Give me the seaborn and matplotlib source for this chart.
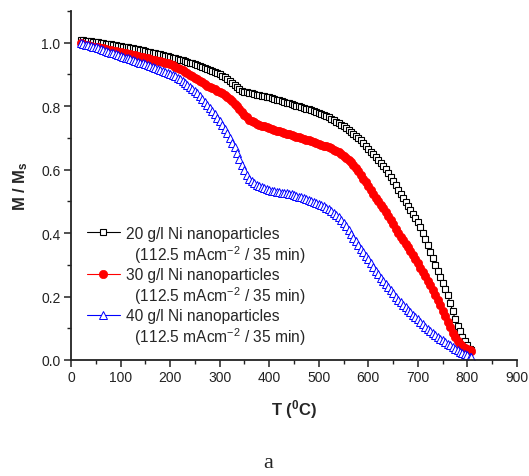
import matplotlib
matplotlib.use("Agg")
import matplotlib.pyplot as plt
from matplotlib.lines import Line2D
from matplotlib.ticker import MultipleLocator
import seaborn as sns
import pandas as pd

# Temperature grid (deg C)
T = [20, 25, 30, 35, 40, 45, 50, 55, 60, 65, 70, 75, 80, 85, 90, 95, 100, 105, 110, 115,
     120, 125, 130, 135, 140, 145, 150, 155, 160, 165, 170, 175, 180, 185, 190, 195, 200,
     205, 210, 215, 220, 225, 230, 235, 240, 245, 250, 255, 260, 265, 270, 275, 280, 285,
     290, 295, 300, 305, 310, 315, 320, 325, 330, 335, 340, 345, 350, 355, 360, 365, 370,
     375, 380, 385, 390, 395, 400, 405, 410, 415, 420, 425, 430, 435, 440, 445, 450, 455,
     460, 465, 470, 475, 480, 485, 490, 495, 500, 505, 510, 515, 520, 525, 530, 535, 540,
     545, 550, 555, 560, 565, 570, 575, 580, 585, 590, 595, 600, 605, 610, 615, 620, 625,
     630, 635, 640, 645, 650, 655, 660, 665, 670, 675, 680, 685, 690, 695, 700, 705, 710,
     715, 720, 725, 730, 735, 740, 745, 750, 755, 760, 765, 770, 775, 780, 785, 790, 795,
     800, 805, 808]

# M / Ms, 20 g/l
M_20 = [1.010, 1.008, 1.007, 1.006, 1.005, 1.003, 1.002, 1.001, 1.000, 0.998, 0.997, 0.996,
        0.995, 0.993, 0.992, 0.991, 0.990, 0.988, 0.987, 0.985, 0.984, 0.982, 0.981, 0.979,
        0.977, 0.976, 0.974, 0.972, 0.970, 0.969, 0.967, 0.965, 0.963, 0.961, 0.959, 0.957,
        0.955, 0.953, 0.951, 0.948, 0.946, 0.944, 0.942, 0.940, 0.937, 0.935, 0.932, 0.929,
        0.926, 0.923, 0.920, 0.917, 0.914, 0.911, 0.907, 0.904, 0.900, 0.896, 0.891, 0.886,
        0.880, 0.873, 0.866, 0.859, 0.853, 0.849, 0.846, 0.844, 0.842, 0.840, 0.838, 0.836,
        0.835, 0.833, 0.832, 0.830, 0.828, 0.826, 0.824, 0.821, 0.819, 0.816, 0.814, 0.811,
        0.809, 0.807, 0.805, 0.802, 0.800, 0.797, 0.795, 0.792, 0.790, 0.787, 0.785, 0.782,
        0.779, 0.775, 0.772, 0.768, 0.765, 0.760, 0.756, 0.751, 0.746, 0.741, 0.736, 0.730,
        0.725, 0.719, 0.713, 0.707, 0.700, 0.692, 0.684, 0.675, 0.665,
        0.657, 0.648, 0.639, 0.630, 0.621, 0.611, 0.601, 0.590, 0.577, 0.564, 0.551, 0.537,
        0.524, 0.510, 0.497, 0.484, 0.472, 0.460, 0.448, 0.435, 0.418, 0.400, 0.381, 0.361,
        0.341, 0.321, 0.301, 0.281, 0.262, 0.243, 0.224, 0.204, 0.180, 0.155, 0.130, 0.108,
        0.090, 0.074, 0.060, 0.048, 0.036, 0.030]

# M / Ms, 30 g/l
M_30 = [0.998, 0.996, 0.994, 0.992, 0.990, 0.988, 0.987, 0.985, 0.984, 0.982, 0.980, 0.978,
        0.977, 0.975, 0.973, 0.972, 0.970, 0.968, 0.967, 0.965, 0.963, 0.962, 0.960, 0.958,
        0.956, 0.955, 0.953, 0.951, 0.949, 0.947, 0.945, 0.943, 0.941, 0.939, 0.937, 0.935,
        0.932, 0.929, 0.925, 0.921, 0.917, 0.913, 0.908, 0.904, 0.899, 0.895, 0.890, 0.885,
        0.880, 0.875, 0.870, 0.865, 0.860, 0.857, 0.853, 0.849, 0.845, 0.840, 0.834, 0.828,
        0.822, 0.815, 0.807, 0.799, 0.790, 0.781, 0.772, 0.765, 0.758, 0.753, 0.749, 0.745,
        0.742, 0.739, 0.736, 0.733, 0.731, 0.728, 0.726, 0.723, 0.721, 0.718, 0.716, 0.713,
        0.711, 0.708, 0.706, 0.704, 0.702, 0.699, 0.697, 0.694, 0.692, 0.689, 0.686, 0.684,
        0.681, 0.678, 0.676, 0.673, 0.670, 0.667, 0.663, 0.659, 0.655, 0.650, 0.644, 0.638,
        0.631, 0.623, 0.614, 0.605, 0.595, 0.584, 0.572, 0.560, 0.548,
        0.536, 0.524, 0.512, 0.500, 0.489, 0.478, 0.466, 0.455, 0.441, 0.428, 0.414, 0.400,
        0.389, 0.378, 0.366, 0.355, 0.342, 0.330, 0.317, 0.305, 0.291, 0.278, 0.264, 0.250,
        0.235, 0.220, 0.205, 0.190, 0.173, 0.155, 0.138, 0.120, 0.103, 0.086, 0.071, 0.060,
        0.052, 0.045, 0.039, 0.034, 0.030, 0.027]

# M / Ms, 40 g/l
M_40 = [0.998, 0.996, 0.994, 0.992, 0.990, 0.988, 0.985, 0.983, 0.980, 0.978, 0.975, 0.972,
        0.969, 0.967, 0.964, 0.961, 0.958, 0.956, 0.953, 0.951, 0.948, 0.946, 0.943, 0.940,
        0.937, 0.935, 0.932, 0.929, 0.926, 0.924, 0.921, 0.918, 0.915, 0.912, 0.909, 0.906,
        0.903, 0.899, 0.895, 0.890, 0.885, 0.880, 0.874, 0.868, 0.862, 0.855, 0.848, 0.840,
        0.832, 0.823, 0.814, 0.805, 0.795, 0.785, 0.774, 0.763, 0.752, 0.740, 0.727, 0.714,
        0.700, 0.685, 0.670, 0.653, 0.635, 0.616, 0.598, 0.584, 0.572, 0.564, 0.558, 0.553,
        0.549, 0.545, 0.542, 0.539, 0.536, 0.534, 0.532, 0.530, 0.529, 0.527, 0.526, 0.525,
        0.524, 0.522, 0.520, 0.518, 0.515, 0.513, 0.510, 0.508, 0.505, 0.502, 0.498, 0.495,
        0.491, 0.488, 0.484, 0.480, 0.475, 0.470, 0.464, 0.457, 0.450, 0.441, 0.432, 0.421,
        0.410, 0.398, 0.386, 0.374, 0.362, 0.351, 0.340, 0.329, 0.318,
        0.306, 0.294, 0.282, 0.270, 0.260, 0.250, 0.240, 0.230, 0.220, 0.210, 0.200, 0.190,
        0.182, 0.174, 0.166, 0.158, 0.150, 0.143, 0.135, 0.128, 0.120, 0.112, 0.105, 0.097,
        0.091, 0.084, 0.078, 0.072, 0.067, 0.062, 0.057, 0.052, 0.046, 0.041, 0.035, 0.030,
        0.026, 0.022, 0.019, 0.015, 0.011, 0.008]

LABELS = ["20 g/l Ni nanoparticles", "30 g/l Ni nanoparticles", "40 g/l Ni nanoparticles"]
SUBLABEL = "  (112.5 mAcm$^{-2}$ / 35 min)"
X_TICKS = [0, 100, 200, 300, 400, 500, 600, 700, 800, 900]
Y_TICKS = [0.0, 0.2, 0.4, 0.6, 0.8, 1.0]

sns.set_theme(style="ticks")
plt.rcParams["font.family"] = ["Liberation Sans", "DejaVu Sans"]
plt.rcParams["mathtext.fontset"] = "custom"
plt.rcParams["mathtext.rm"] = "Liberation Sans"
plt.rcParams["mathtext.it"] = "Liberation Sans:italic"
plt.rcParams["mathtext.bf"] = "Liberation Sans:bold"

fig = plt.figure(figsize=(5.29, 4.77), dpi=100)
ax = fig.add_axes([71 / 529, 1 - 361 / 477, 446 / 529, 349 / 477])

styles = [
    dict(color="black", marker="s", markersize=5.0, markerfacecolor="white",
         markeredgecolor="black", markeredgewidth=0.8),
    dict(color="red", marker="o", markersize=6.0, markerfacecolor="red",
         markeredgecolor="red", markeredgewidth=0.5),
    dict(color="blue", marker="^", markersize=5.6, markerfacecolor="white",
         markeredgecolor="blue", markeredgewidth=0.7),
]
series = [M_20, M_30, M_40]

for m, st in zip(series, styles):
    df = pd.DataFrame({"T": T, "M": m})
    sns.lineplot(data=df, x="T", y="M", ax=ax, estimator=None, sort=False,
                 linewidth=0.8, legend=False, **st)

ax.set_xlim(0, 900)
ax.set_ylim(0, 1.1)
ax.set_xticks(X_TICKS)
ax.set_yticks(Y_TICKS)
ax.set_yticklabels([f"{v:.1f}" for v in Y_TICKS])
ax.xaxis.set_minor_locator(MultipleLocator(50))
ax.yaxis.set_minor_locator(MultipleLocator(0.1))
sns.despine(ax=ax)
for s in ["left", "bottom"]:
    ax.spines[s].set_linewidth(1.3)
    ax.spines[s].set_color("#222222")
ax.tick_params(which="major", direction="out", length=5, width=1.1, colors="#222222",
               labelsize=10, pad=2.5, labelcolor="#222222")
ax.tick_params(which="minor", direction="out", length=2.8, width=1.0, colors="#222222")

ax.set_xlabel("T ($\\mathbf{^0}$C)", fontsize=12, fontweight="bold", labelpad=9)
ax.set_ylabel("M / M$_\\mathbf{s}$", fontsize=12, fontweight="bold", labelpad=8)

handles = []
labels = []
blank = Line2D([], [], linestyle="none", marker=None)
for lab, st in zip(LABELS, styles):
    h = Line2D([], [], linewidth=0.8, **st)
    handles += [h, blank]
    labels += [lab, SUBLABEL]
leg = ax.legend(handles, labels, loc="upper left", bbox_to_anchor=(0.036, 0.385),
                frameon=False, fontsize=11.2, handlelength=2.1, handletextpad=0.4,
                labelspacing=0.15, borderpad=0, borderaxespad=0)

fig.text(268 / 529, 1 - 464 / 477, "a", ha="center", va="center", fontsize=16,
         family="Liberation Serif")

fig.savefig("out.png", dpi=100)
